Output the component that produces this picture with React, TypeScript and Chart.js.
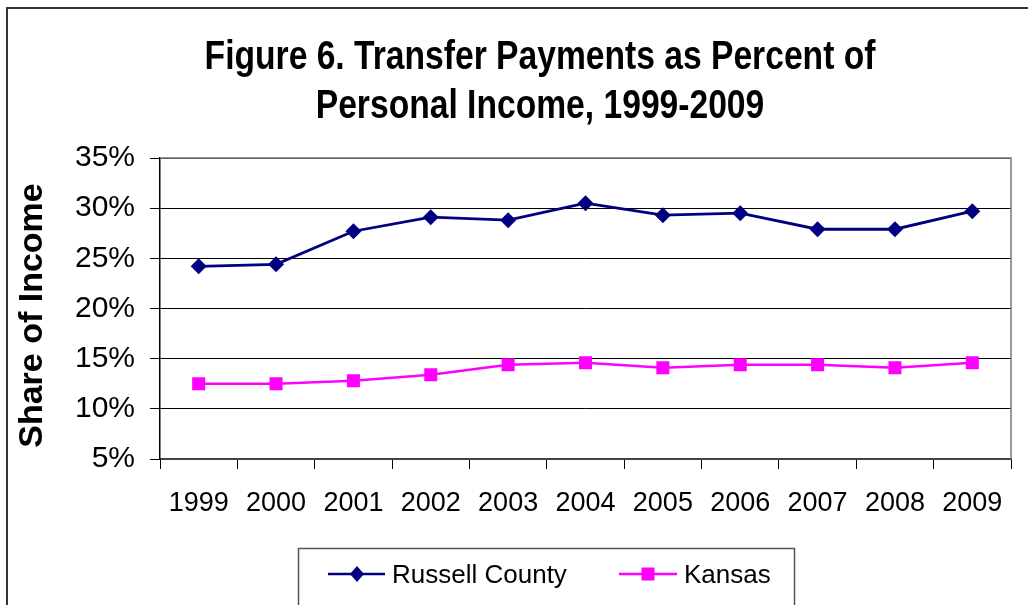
import React, { useEffect, useRef } from "react";
import { Chart, registerables } from "chart.js";

Chart.register(...registerables);

// ---- data ----
const years = ["1999", "2000", "2001", "2002", "2003", "2004", "2005", "2006", "2007", "2008", "2009"];
const russellCounty = [24.2, 24.4, 27.7, 29.1, 28.8, 30.5, 29.3, 29.5, 27.9, 27.9, 29.7];
const kansas = [12.5, 12.5, 12.8, 13.4, 14.4, 14.6, 14.1, 14.4, 14.4, 14.1, 14.6];
const seriesNames = ["Russell County", "Kansas"];
const yMin = 5;
const yMax = 35;
const yStep = 5;
const titleLines = ["Figure 6. Transfer Payments as Percent of", "Personal Income, 1999-2009"];
const yAxisTitle = "Share of Income";

const W = 1028;
const H = 605;
const SANS = '"Liberation Sans", Arial, sans-serif';

const NAVY = "#000080";
const MAGENTA = "#FF00FF";

const decorPlugin = {
  id: "decor",
  beforeDatasetsDraw(chart: any) {
    const { ctx, chartArea } = chart;
    ctx.save();
    ctx.strokeStyle = "#7a7a7a";
    ctx.lineWidth = 1.5;
    ctx.beginPath();
    ctx.moveTo(chartArea.left, chartArea.top);
    ctx.lineTo(chartArea.right, chartArea.top);
    ctx.lineTo(chartArea.right, chartArea.bottom);
    ctx.stroke();
    ctx.restore();
  },
  afterDraw(chart: any) {
    const { ctx } = chart;
    ctx.save();
    // outer border
    ctx.strokeStyle = "#333";
    ctx.lineWidth = 2;
    ctx.beginPath();
    ctx.moveTo(7, H + 5);
    ctx.lineTo(7, 8);
    ctx.lineTo(W + 5, 8);
    ctx.stroke();

    // title (condensed bold, like Arial Narrow)
    ctx.fillStyle = "#000";
    ctx.textAlign = "center";
    ctx.textBaseline = "alphabetic";
    ctx.font = `bold 41px ${SANS}`;
    ctx.save();
    ctx.translate(540, 0);
    ctx.scale(0.82, 1);
    ctx.fillText(titleLines[0], 0, 69);
    ctx.fillText(titleLines[1], 0, 118);
    ctx.restore();

    // y axis title
    ctx.save();
    ctx.translate(42, 315.5);
    ctx.rotate(-Math.PI / 2);
    ctx.font = `bold 34px ${SANS}`;
    ctx.textAlign = "center";
    ctx.textBaseline = "alphabetic";
    ctx.fillText(yAxisTitle, 0, 0);
    ctx.restore();

    // legend box
    ctx.strokeStyle = "#555";
    ctx.lineWidth = 1.5;
    ctx.strokeRect(298.5, 548.5, 496, 80);

    const items = [
      { x0: 328, x1: 385, mx: 357, tx: 392, ds: chart.data.datasets[0], shape: "diamond" },
      { x0: 619, x1: 677, mx: 648, tx: 684, ds: chart.data.datasets[1], shape: "square" },
    ];
    const ly = 574;
    items.forEach((it) => {
      ctx.strokeStyle = it.ds.borderColor;
      ctx.lineWidth = 2.5;
      ctx.beginPath();
      ctx.moveTo(it.x0, ly);
      ctx.lineTo(it.x1, ly);
      ctx.stroke();
      ctx.fillStyle = it.ds.borderColor;
      ctx.beginPath();
      if (it.shape === "diamond") {
        ctx.moveTo(it.mx - 7, ly);
        ctx.lineTo(it.mx, ly - 8);
        ctx.lineTo(it.mx + 7, ly);
        ctx.lineTo(it.mx, ly + 8);
        ctx.closePath();
      } else {
        ctx.rect(it.mx - 6.5, ly - 6.5, 13, 13);
      }
      ctx.fill();
      ctx.fillStyle = "#000";
      ctx.textAlign = "left";
      ctx.textBaseline = "alphabetic";
      ctx.font = `26px ${SANS}`;
      ctx.fillText(it.ds.label, it.tx, 583);
    });
    ctx.restore();
  },
};

export default function App() {
  const ref = useRef<HTMLCanvasElement>(null);
  useEffect(() => {
    document.body.style.margin = "0";
    const canvas = ref.current;
    if (!canvas) return;
    const chart = new Chart(canvas, {
      type: "line",
      data: {
        labels: years,
        datasets: [
          {
            label: seriesNames[0],
            data: russellCounty,
            borderColor: NAVY,
            backgroundColor: NAVY,
            borderWidth: 2.8,
            pointStyle: "rectRot",
            pointRadius: 8,
            pointBorderWidth: 0,
            pointBackgroundColor: NAVY,
            tension: 0,
          },
          {
            label: seriesNames[1],
            data: kansas,
            borderColor: MAGENTA,
            backgroundColor: MAGENTA,
            borderWidth: 2.5,
            pointStyle: "rect",
            pointRadius: 9.2,
            pointBorderWidth: 0,
            pointBackgroundColor: MAGENTA,
            tension: 0,
          },
        ],
      },
      options: {
        responsive: false,
        animation: false,
        devicePixelRatio: 1,
        layout: { padding: { left: 0, right: 17, top: 158, bottom: 0 } },
        plugins: {
          legend: { display: false },
          title: { display: false },
          tooltip: { enabled: false },
        },
        scales: {
          x: {
            type: "category",
            offset: true,
            grid: {
              offset: true,
              drawOnChartArea: false,
              drawTicks: true,
              tickLength: 10,
              tickColor: "#000",
              lineWidth: 1,
            },
            border: { color: "#444", width: 2 },
            ticks: {
              color: "#000",
              font: { family: SANS, size: 27 },
              padding: 18,
              maxRotation: 0,
              autoSkip: false,
            },
            afterFit: (s: any) => {
              s.height = H - 459;
            },
          },
          y: {
            min: yMin,
            max: yMax,
            ticks: {
              stepSize: yStep,
              callback: (v: any) => `${v}%`,
              color: "#000",
              font: { family: SANS, size: 30 },
              padding: 15,
            },
            grid: { color: "#000", lineWidth: 1, tickLength: 10, tickColor: "#000" },
            border: { color: "#000", width: 1.5 },
            afterFit: (s: any) => {
              s.width = 160;
            },
          },
        },
      },
      plugins: [decorPlugin],
    } as any);
    return () => chart.destroy();
  }, []);
  return (
    <div style={{ width: W, height: H, background: "#fff" }}>
      <canvas ref={ref} width={W} height={H} style={{ display: "block" }} />
    </div>
  );
}
